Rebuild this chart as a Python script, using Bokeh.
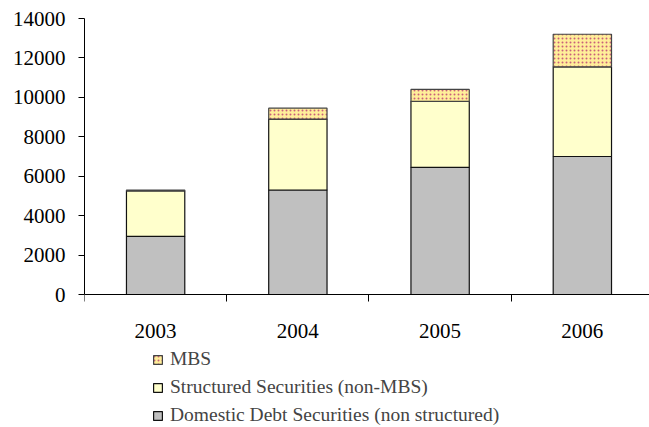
from bokeh.plotting import figure
from bokeh.models import (Range1d, FixedTicker, Legend, LegendItem, ColumnDataSource)
from bokeh.embed import file_html
from bokeh.resources import INLINE

years = ["2003", "2004", "2005", "2006"]
domestic = [2950, 5300, 6450, 7000]
structured = [2300, 3600, 3350, 4550]
mbs = [50, 550, 600, 1650]
y_ticks = [0, 2000, 4000, 6000, 8000, 10000, 12000, 14000]

xpos = [i + 0.5 for i in range(len(years))]
src = ColumnDataSource(dict(x=xpos, domestic=domestic, structured=structured, mbs=mbs))

FONT = "Liberation Serif"

# frame extends below the zero line so the legend can sit inside it
p = figure(width=649, height=427, output_backend="svg", toolbar_location=None,
           x_range=Range1d(0, 3.972), y_range=Range1d(-6746, 14000),
           min_border_left=84, min_border_right=0, min_border_top=18, min_border_bottom=0)
p.outline_line_color = None
p.grid.visible = False

r = p.vbar_stack(["domestic", "structured", "mbs"], x="x", width=0.41, source=src,
                 fill_color=["#C0C0C0", "#FFFFCC", "#FFEE99"],
                 line_color=["#111111", "#111111", "#444444"], line_width=1.2)
r[2].glyph.hatch_pattern = "dot"
r[2].glyph.hatch_color = "#C8607A"
r[2].glyph.hatch_scale = 4
r[2].glyph.hatch_weight = 2.2

# x axis drawn at y = 0
xa = p.xaxis[0]
xa.fixed_location = 0
xa.ticker = FixedTicker(ticks=xpos, minor_ticks=[0, 1, 2, 3, 4])
xa.major_label_overrides = {x: y for x, y in zip(xpos, years)}
xa.major_tick_out = 0
xa.major_tick_in = 0
xa.minor_tick_out = 7
xa.minor_tick_in = 0
xa.minor_tick_line_color = "black"
xa.axis_line_color = "black"
xa.major_label_standoff = 22
xa.major_label_text_font = FONT
xa.major_label_text_font_size = "21px"
xa.major_label_text_color = "black"

ya = p.yaxis[0]
ya.bounds = (0, 14000)
ya.ticker = FixedTicker(ticks=y_ticks)
ya.minor_tick_line_color = None
ya.major_tick_out = 6
ya.major_tick_in = 0
ya.major_tick_line_color = "black"
ya.axis_line_color = "black"
ya.major_label_standoff = 13
ya.major_label_text_font = FONT
ya.major_label_text_font_size = "21px"
ya.major_label_text_color = "black"

legend = Legend(items=[LegendItem(label="MBS", renderers=[r[2]]),
                       LegendItem(label="Structured Securities (non-MBS)", renderers=[r[1]]),
                       LegendItem(label="Domestic Debt Securities (non structured)", renderers=[r[0]])],
                location=(68, 1), orientation="vertical",
                padding=0, margin=0, spacing=6,
                glyph_width=11, glyph_height=11, label_standoff=7, label_height=20,
                label_text_font=FONT, label_text_font_size="19.5px",
                border_line_color=None, background_fill_alpha=0)
p.add_layout(legend, "center")

open("out.html", "w").write(file_html(p, INLINE))
